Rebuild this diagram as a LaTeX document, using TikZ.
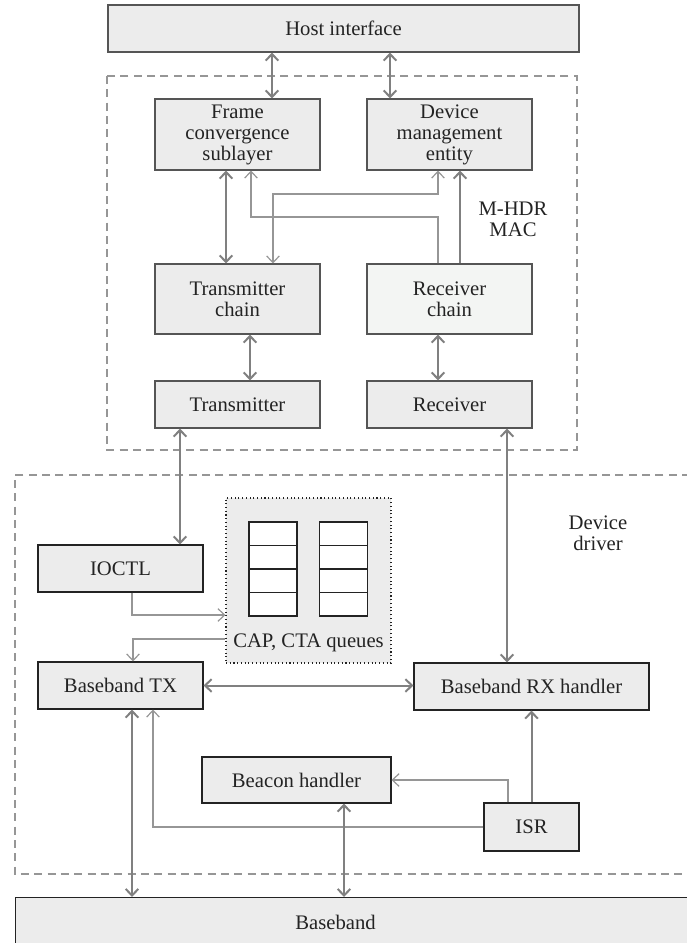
\documentclass[tikz,border=0pt]{standalone}
\usepackage{fontspec}
\setmainfont{Liberation Serif}
\usepackage{tikz}
\usetikzlibrary{calc}
\usetikzlibrary{arrows.meta}
\definecolor{boxgray}{RGB}{236, 236, 236}
\definecolor{chainwhite}{RGB}{243, 245, 243}
\definecolor{wiregray}{RGB}{128, 128, 128}
\definecolor{wirelight}{RGB}{150, 150, 150}
\definecolor{framegray}{RGB}{150, 150, 150}
\definecolor{edgegray}{RGB}{85, 85, 85}
\definecolor{inkblack}{RGB}{35, 35, 35}

\begin{document}
\begin{tikzpicture}[x=0.75pt, y=-0.75pt,
        font=\fontsize{15.5}{15.75}\selectfont, text=inkblack,
        >={Straight Barb[length=5pt, width=9.5pt]},
        block/.style={draw=edgegray, fill=boxgray, line width=0.8pt, inner sep=0pt, align=center,
                      minimum width=123.75pt, minimum height=35.25pt},
        lowblock/.style={block, draw=inkblack},
        cell/.style={draw=inkblack, fill=white, line width=1pt, inner sep=0pt,
                     minimum width=36pt, minimum height=17.625pt},
        queuebox/.style={draw=inkblack, fill=boxgray, line width=0.8pt, dash pattern=on 0.8pt off 2pt,
                         inner sep=0pt, minimum size=123.75pt},
        layerframe/.style={draw=framegray, line width=1pt, dash pattern=on 6pt off 4pt},
        wire/.style={draw=wiregray, line width=1.5pt},
        thinwire/.style={draw=wirelight, line width=0.9pt}]
    \useasboundingbox (0,0) rectangle (686,943);

    \node[block, minimum width=353.25pt]                          (host)   at (343.5, 28.5) {Host interface};
    \draw[layerframe] (107,76) rectangle (577,450);
    \node[block, minimum height=53.25pt]                          (fcs)    at (237.5,134.5) {Frame\\convergence\\sublayer};
    \node[block, minimum height=53.25pt]                          (dme)    at (449.5,134.5) {Device\\management\\entity};
    \node[block, minimum height=52.5pt]                           (txc)    at (237.5,299)   {Transmitter\\chain};
    \node[block, minimum height=52.5pt, fill=chainwhite]          (rxc)    at (449.5,299)   {Receiver\\chain};
    \node[block]                                                  (tx)     at (237.5,404.5) {Transmitter};
    \node[block]                                                  (rx)     at (449.5,404.5) {Receiver};
    \node[align=center]                                           (mac)    at (513,219)     {M-HDR\\MAC};

    \draw[layerframe] (690,475) -- (15,475) -- (15,874) -- (690,874);
    \node[align=center]                                           (drv)    at (598,533)     {Device\\driver};
    \node[lowblock]                                               (ioctl)  at (120.5,568.5) {IOCTL};
    \node[queuebox]                                               (queues) at (308.5,580.5) {};
    \foreach \cx/\c in {273/a, 343.5/b}
        \foreach \r in {0,...,3}
            \node[cell] (cell\c\r) at (\cx, 533.75+23.5*\r) {};
    \node                                                         (qtext)  at (308.5,643)   {CAP, CTA queues};
    \node[lowblock]                                               (btx)    at (120.5,685.5) {Baseband TX};
    \node[lowblock, minimum width=176.25pt]                       (brx)    at (531.5,686.5) {Baseband RX handler};
    \node[lowblock, minimum width=141.75pt, minimum height=34.5pt] (beacon) at (296.5,780)   {Beacon handler};
    \node[lowblock, minimum width=71.25pt, minimum height=36pt]   (isr)    at (531.5,827)   {ISR};
    \node[lowblock, anchor=north west, minimum width=513.75pt, minimum height=37.5pt,
          label={[xshift=-16.9pt]center:Baseband}]                (bb)     at (15,897)      {};

    \draw[wire, <->]     (272,0 |- host.south) -- (272,0 |- fcs.north);
    \draw[wire, <->]     (390,0 |- host.south) -- (390,0 |- dme.north);
    \draw[wire, <->]     (226,0 |- fcs.south)  -- (226,0 |- txc.north);
    \draw[thinwire, ->]  (438,0 |- rxc.north)  -- (438,217) -- (251,217) -- (251,0 |- fcs.south);
    \draw[thinwire, <->] (273,0 |- txc.north)  -- (273,194) -- (438,194) -- (438,0 |- dme.south);
    \draw[wire, ->]      (460,0 |- rxc.north)  -- (460,0 |- dme.south);
    \draw[wire, <->]     (250,0 |- txc.south)  -- (250,0 |- tx.north);
    \draw[wire, <->]     (438,0 |- rxc.south)  -- (438,0 |- rx.north);
    \draw[wire, <->]     (180,0 |- tx.south)   -- (180,0 |- ioctl.north);
    \draw[wire, <->]     (507,0 |- rx.south)   -- (507,0 |- brx.north);
    \draw[thinwire, ->]  (132,0 |- ioctl.south) |- (queues.west |- 0,615);
    \draw[thinwire, ->]  (queues.west |- 0,639) -| (133,0 |- btx.north);
    \draw[wire, <->]     (btx.east) -- (btx.east -| brx.west);
    \draw[wire, ->]      (isr.north) -- (isr.north |- brx.south);
    \draw[thinwire, ->]  (508,0 |- isr.north) |- (beacon.east);
    \draw[thinwire, ->]  (isr.west) -| (153,0 |- btx.south);
    \draw[wire, <->]     (132,0 |- btx.south)  -- (132,0 |- bb.north);
    \draw[wire, <->]     (344,0 |- beacon.south) -- (344,0 |- bb.north);
\end{tikzpicture}
\end{document}
